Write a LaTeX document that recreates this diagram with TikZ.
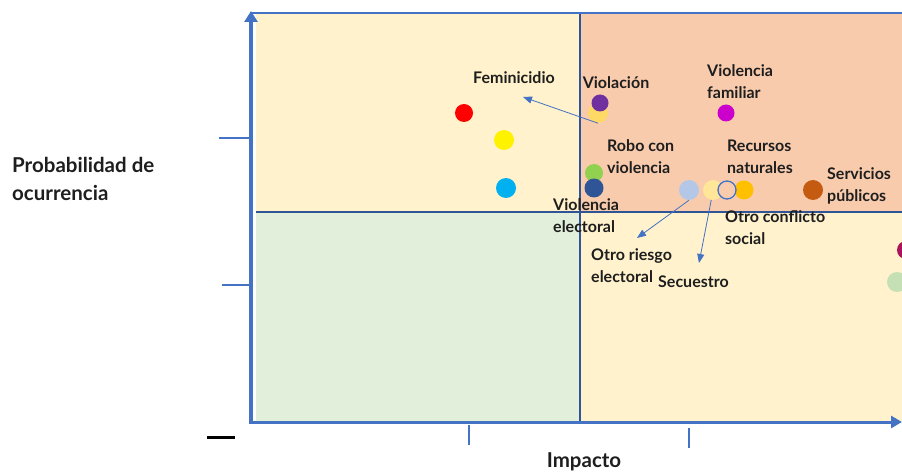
\documentclass[tikz,border=0pt]{standalone}
\usepackage{fontspec}
\setmainfont{Lato}
\usepackage{tikz}
\usetikzlibrary{arrows.meta,positioning,calc}
\definecolor{achsenblau}{RGB}{68,114,196}
\definecolor{linienblau}{RGB}{47,85,151}
\definecolor{feldgelb}{RGB}{255,242,204}
\definecolor{feldlachs}{RGB}{248,203,173}
\definecolor{feldgruen}{RGB}{226,239,218}
\definecolor{textgrau}{RGB}{30,30,30}
\definecolor{cyanblau}{RGB}{0,176,240}
\definecolor{lila}{RGB}{112,48,160}
\definecolor{magentarot}{RGB}{204,0,204}
\definecolor{hellgruenpunkt}{RGB}{146,208,80}
\definecolor{dunkelblau}{RGB}{47,85,151}
\definecolor{hellblau}{RGB}{180,199,231}
\definecolor{hellgelb}{RGB}{255,230,153}
\definecolor{goldgelb}{RGB}{255,192,0}
\definecolor{orangebraun}{RGB}{197,90,17}
\definecolor{gelborange}{RGB}{255,217,102}
\definecolor{karmin}{RGB}{170,20,90}
\definecolor{blassgruen}{RGB}{197,224,180}

\begin{document}
\begin{tikzpicture}[x=1pt,y=-1pt,
  punkt/.style={circle,inner sep=0pt,minimum size=#1},
  etikett/.style={font=\fontsize{16}{22}\selectfont\bfseries,text=textgrau,inner sep=0pt,align=left},
  pfeil/.style={draw=achsenblau,line width=0.8pt,-{Triangle[length=9pt,width=7pt]}}]
%Koordinaten in Pixeln des Bildes, y nach unten
  \pgfmathsetmacro{\links}{256}
  \pgfmathsetmacro{\oben}{13}
  \pgfmathsetmacro{\mitteX}{580}
  \pgfmathsetmacro{\mitteY}{212}
  \pgfmathsetmacro{\unten}{422}
\clip (0,0) rectangle (902,473);
%Quadranten
\fill[feldgelb] (\links,\oben) rectangle (\mitteX,\mitteY);
\fill[feldlachs] (\mitteX,\oben) rectangle (902,\mitteY);
\fill[feldgruen] (\links,\mitteY) rectangle (\mitteX,\unten);
\fill[feldgelb] (\mitteX,\mitteY) rectangle (902,\unten);
\draw[linienblau,line width=1.8pt] (\mitteX,\oben) -- (\mitteX,\unten);
\draw[linienblau,line width=1.8pt] (\links,\mitteY) -- (902,\mitteY);
\draw[achsenblau,line width=2pt] (250,\oben) -- (902,\oben);
%Achsen
\draw[achsenblau,line width=4.5pt,-{Triangle[length=11pt,width=13pt]}] (251,\unten+1) -- (251,11);
\draw[achsenblau,line width=3pt,-{Triangle[length=11pt,width=12pt]}] (249,\unten) -- (902,\unten);
\foreach \ty/\tx in {138/219,285/222}{
\draw[achsenblau,line width=1.2pt] (\tx,\ty) -- (249,\ty);
}
\draw[achsenblau,line width=1.2pt] (469,425) -- (469,445);
\draw[achsenblau,line width=1.2pt] (689,428) -- (689,448);
\draw[black,line width=3pt] (207,437) -- (235,437);
%Punkte
\foreach \name/\x/\y/\d/\farbe in {rot/464/113/18/red, gelb/504/140/20/yellow, cyan/506/188/20/cyanblau,
  gelbor/598/113/20/gelborange, violacion/600/103/17/lila, familiar/726/113/17/magentarot,
  robo/594/173/18/hellgruenpunkt, electoral/594/188/19/dunkelblau, riesgo/689/190/20/hellblau,
  secuestro/713/190/20/hellgelb, recursos/744/190/19/goldgelb, servicios/813/190/20/orangebraun,
  karminpunkt/906/250/18/karmin, gruenpunkt/897/282/20/blassgruen}{
  \node[punkt=\d pt,fill=\farbe] (\name) at (\x,\y) {};
}
\node[punkt=18pt,fill=feldlachs,draw=achsenblau,line width=1.3pt] (conflicto) at (727,190) {};
%Beschriftungen
\node[etikett,anchor=center] (tFem) at (514,78) {Feminicidio};
\node[etikett,anchor=center] (tViol) at (616,83) {Violación};
\node[etikett,anchor=west] (tFam) at (707,82) {Violencia\\familiar};
\node[etikett,anchor=west] (tRobo) at (607,157) {Robo con\\violencia};
\node[etikett,anchor=west] (tRec) at (727,157) {Recursos\\naturales};
\node[etikett,anchor=west] (tServ) at (827,186) {Servicios\\públicos};
\node[etikett,anchor=west] (tElec) at (553,216) {Violencia\\electoral};
\node[etikett,anchor=west] (tConf) at (725,228) {Otro conflicto\\social};
\node[etikett,anchor=west] (tRies) at (591,266) {Otro riesgo\\electoral};
\node[etikett,anchor=west] (tSec) at (658,282) {Secuestro};
\node[etikett,font=\fontsize{20.5}{28}\selectfont\bfseries,anchor=west] (tProb) at (12,179) {Probabilidad de\\ocurrencia};
\node[etikett,font=\fontsize{20.5}{24}\selectfont\bfseries,anchor=center] (tImp) at (584,462) {Impacto};
%Pfeile
\coordinate (zielFem) at (523,97);
\coordinate (zielRies) at (637,238);
\coordinate (zielSec) at (699,263);
\draw[pfeil] (gelbor.south) -- (zielFem);
\draw[pfeil] (riesgo.south) -- (zielRies);
\draw[pfeil] (secuestro.-100) -- (zielSec);
\end{tikzpicture}
\end{document}
